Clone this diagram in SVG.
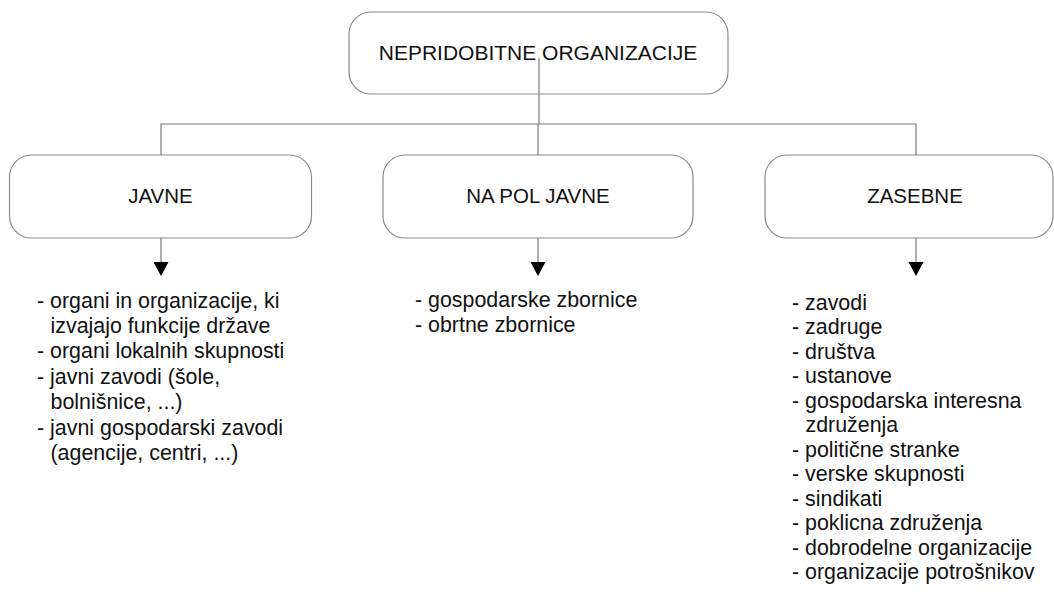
<svg xmlns="http://www.w3.org/2000/svg" width="1054" height="599" viewBox="0 0 1054 599">
<style>
.box{fill:#fff;stroke:#8a8a8a;stroke-width:1.2}
.lbl{font-family:"Liberation Sans",Arial,sans-serif;font-size:20.5px;fill:#111;text-anchor:middle}
.ttl{font-family:"Liberation Sans",Arial,sans-serif;font-size:21px;fill:#111;text-anchor:middle}
.lst{font-family:"Liberation Sans",Arial,sans-serif;font-size:21.4px;fill:#111}
.con{fill:none;stroke:#7a7a7a;stroke-width:1.2}
.arr{fill:#000}
</style>
<rect width="1054" height="599" fill="#fff"/>
<g id="root">
<rect class="box" x="349" y="12" width="379" height="82" rx="22"/>
<text class="ttl" x="538" y="60">NEPRIDOBITNE ORGANIZACIJE</text>
</g>
<g id="javne">
<rect class="box" x="9.5" y="155" width="302" height="83" rx="22"/>
<text class="lbl" x="160.5" y="203">JAVNE</text>
</g>
<g id="napol">
<rect class="box" x="383" y="155" width="310" height="83" rx="22"/>
<text class="lbl" x="538" y="203">NA POL JAVNE</text>
</g>
<g id="zasebne">
<rect class="box" x="765" y="155" width="288" height="83" rx="22"/>
<text class="lbl" x="915" y="203">ZASEBNE</text>
</g>
<g id="connectors">
<path class="con" d="M539 58 V124 M161 155 V124 H916 V155 M538 124 V155"/>
<path class="con" d="M161 238 V263 M538 238 V263 M916 238 V263"/>
<path class="arr" d="M153.5 262 H168.5 L161 276 Z M530.5 262 H545.5 L538 276 Z M908.5 262 H923.5 L916 276 Z"/>
</g>
<g id="javne-list" class="lst">
<text x="37" y="308">- organi in organizacije, ki</text>
<text x="50.5" y="333">izvajajo funkcije države</text>
<text x="37" y="358">- organi lokalnih skupnosti</text>
<text x="37" y="383.5">- javni zavodi (šole,</text>
<text x="50.5" y="409">bolnišnice, ...)</text>
<text x="37" y="434.5">- javni gospodarski zavodi</text>
<text x="50.5" y="460">(agencije, centri, ...)</text>
</g>
<g id="napol-list" class="lst">
<text x="415" y="307">- gospodarske zbornice</text>
<text x="415" y="332">- obrtne zbornice</text>
</g>
<g id="zasebne-list" class="lst">
<text x="792" y="309.5">- zavodi</text>
<text x="792" y="334">- zadruge</text>
<text x="792" y="358.5">- društva</text>
<text x="792" y="383">- ustanove</text>
<text x="792" y="407.5">- gospodarska interesna</text>
<text x="805.5" y="432">združenja</text>
<text x="792" y="456.5">- politične stranke</text>
<text x="792" y="481">- verske skupnosti</text>
<text x="792" y="505.5">- sindikati</text>
<text x="792" y="530">- poklicna združenja</text>
<text x="792" y="554.5">- dobrodelne organizacije</text>
<text x="792" y="579">- organizacije potrošnikov</text>
</g>
</svg>
